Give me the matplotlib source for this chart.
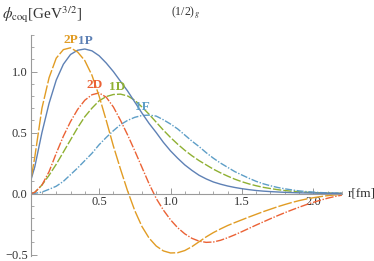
import numpy as np
import matplotlib
matplotlib.use('Agg')
import matplotlib.pyplot as plt
from matplotlib.ticker import MultipleLocator, FixedLocator

plt.rcParams['font.family'] = ['Liberation Serif', 'DejaVu Serif']
plt.rcParams['mathtext.fontset'] = 'stix'

# r grid [fm]
r = [0.025, 0.05, 0.1, 0.15, 0.2, 0.25, 0.3, 0.35, 0.4, 0.45, 0.5, 0.55, 0.6, 0.65,
     0.7, 0.75, 0.8, 0.85, 0.9, 0.95, 1.0, 1.05, 1.1, 1.15, 1.2, 1.25, 1.3, 1.35,
     1.4, 1.45, 1.5, 1.55, 1.6, 1.65, 1.7, 1.75, 1.8, 1.85, 1.9, 1.95, 2.0, 2.05,
     2.1, 2.15, 2.2]

phi_1P = [0.12, 0.22, 0.50, 0.74, 0.93, 1.06, 1.14, 1.175, 1.185, 1.17, 1.13, 1.07, 1.00, 0.92,
          0.84, 0.75, 0.66, 0.575, 0.50, 0.42, 0.35, 0.29, 0.235, 0.19, 0.15, 0.12, 0.095, 0.077,
          0.062, 0.05, 0.04, 0.032, 0.025, 0.02, 0.016, 0.013, 0.01, 0.008, 0.006, 0.005, 0.004, 0.003,
          0.002, 0.002, 0.001]

phi_2P = [0.13, 0.30, 0.70, 0.95, 1.11, 1.18, 1.195, 1.16, 1.09, 0.97, 0.80, 0.60, 0.39, 0.20,
          0.02, -0.14, -0.27, -0.365, -0.43, -0.47, -0.487, -0.485, -0.467, -0.435, -0.395, -0.355, -0.32, -0.29,
          -0.262, -0.238, -0.215, -0.192, -0.17, -0.148, -0.128, -0.108, -0.09, -0.073, -0.058, -0.045, -0.034, -0.025,
          -0.017, -0.011, -0.007]

phi_2D = [0.0, 0.01, 0.07, 0.18, 0.33, 0.47, 0.59, 0.69, 0.765, 0.81, 0.825, 0.79, 0.71, 0.60,
          0.48, 0.35, 0.215, 0.08, -0.04, -0.135, -0.215, -0.28, -0.33, -0.367, -0.39, -0.40, -0.397, -0.383,
          -0.362, -0.338, -0.312, -0.285, -0.258, -0.232, -0.206, -0.181, -0.157, -0.134, -0.112, -0.091, -0.072, -0.054,
          -0.038, -0.024, -0.013]

phi_1D = [0.0, 0.01, 0.07, 0.15, 0.24, 0.34, 0.44, 0.54, 0.63, 0.70, 0.76, 0.795, 0.812, 0.815,
          0.80, 0.765, 0.71, 0.65, 0.585, 0.52, 0.46, 0.405, 0.355, 0.31, 0.27, 0.235, 0.20, 0.17,
          0.143, 0.118, 0.097, 0.079, 0.064, 0.051, 0.041, 0.032, 0.025, 0.019, 0.015, 0.011, 0.008, 0.006,
          0.004, 0.003, 0.002]

phi_1F = [0.0, 0.002, 0.012, 0.035, 0.06, 0.10, 0.155, 0.21, 0.27, 0.33, 0.40, 0.46, 0.515, 0.565,
          0.60, 0.625, 0.64, 0.643, 0.635, 0.605, 0.57, 0.53, 0.48, 0.43, 0.385, 0.335, 0.29, 0.25,
          0.215, 0.18, 0.152, 0.125, 0.10, 0.08, 0.064, 0.05, 0.039, 0.03, 0.022, 0.016, 0.012, 0.008,
          0.006, 0.004, 0.003]

names = ['1P', '2P', '2D', '1D', '1F']
label_x = [0.402, 0.302, 0.472, 0.624, 0.806]
label_y = [1.252, 1.258, 0.889, 0.870, 0.707]

blue = '#5E81B5'
orange = '#E19C24'
green = '#8FB032'
red = '#EB6235'
lblue = '#5D9EC7'

fig = plt.figure(figsize=(3.74, 2.61), dpi=100)
ax = fig.add_axes([0.0816, 0.02, 0.8326, 0.846])

ax.plot(r, phi_1D, color=green, lw=1.0, ls=(0, (6, 1.5)))
ax.plot(r, phi_1F, color=lblue, lw=1.0, ls=(0, (5, 1.2, 1, 1.2)))
ax.plot(r, phi_2D, color=red, lw=1.0, ls=(0, (6, 1.2, 1, 1.2)))
ax.plot(r, phi_1P, color=blue, lw=1.0)
ax.plot(r, phi_2P, color=orange, lw=1.0, ls=(0, (10, 1.5)))

cols = [blue, orange, red, green, lblue]
for n, x, y, c in zip(names, label_x, label_y, cols):
    ax.text(x, y, n, color=c, fontsize=9.5, fontweight='bold', ha='center', va='center')

ax.set_xlim(0.02, 2.2)
ax.set_ylim(-0.51, 1.3)

for s in ['top', 'right']:
    ax.spines[s].set_visible(False)
ax.spines['bottom'].set_position(('data', 0))
for s in ['left', 'bottom']:
    ax.spines[s].set_color('#9a9a9a')
    ax.spines[s].set_linewidth(0.8)

ax.xaxis.set_major_locator(FixedLocator([0.5, 1.0, 1.5, 2.0]))
ax.xaxis.set_minor_locator(MultipleLocator(0.1))
ax.yaxis.set_major_locator(FixedLocator([-0.5, 0.0, 0.5, 1.0]))
ax.yaxis.set_minor_locator(MultipleLocator(0.1))
ax.set_xticklabels(['0.5', '1.0', '1.5', '2.0'])
ax.set_yticklabels(['\u22120.5', '0.0', '0.5', '1.0'])
ax.tick_params(which='both', direction='in', color='#9a9a9a', labelsize=9, labelcolor='#333333')
ax.tick_params(which='major', length=4, width=0.7, pad=2)
ax.tick_params(which='minor', length=2, width=0.6)

ax.text(1.018, 0.283, 'r[fm]', transform=ax.transAxes, fontsize=9.5, color='#333333',
        ha='left', va='center')
fig.text(0.005, 0.945, r'$\phi_{\rm coq}$[GeV$^{3/2}$]', fontsize=11, color='#333333',
         ha='left', va='center')
fig.text(0.495, 0.952, r'(1/2)$_g$', fontsize=8.5, color='#333333', ha='center', va='center')

fig.savefig('out.png', dpi=100)
